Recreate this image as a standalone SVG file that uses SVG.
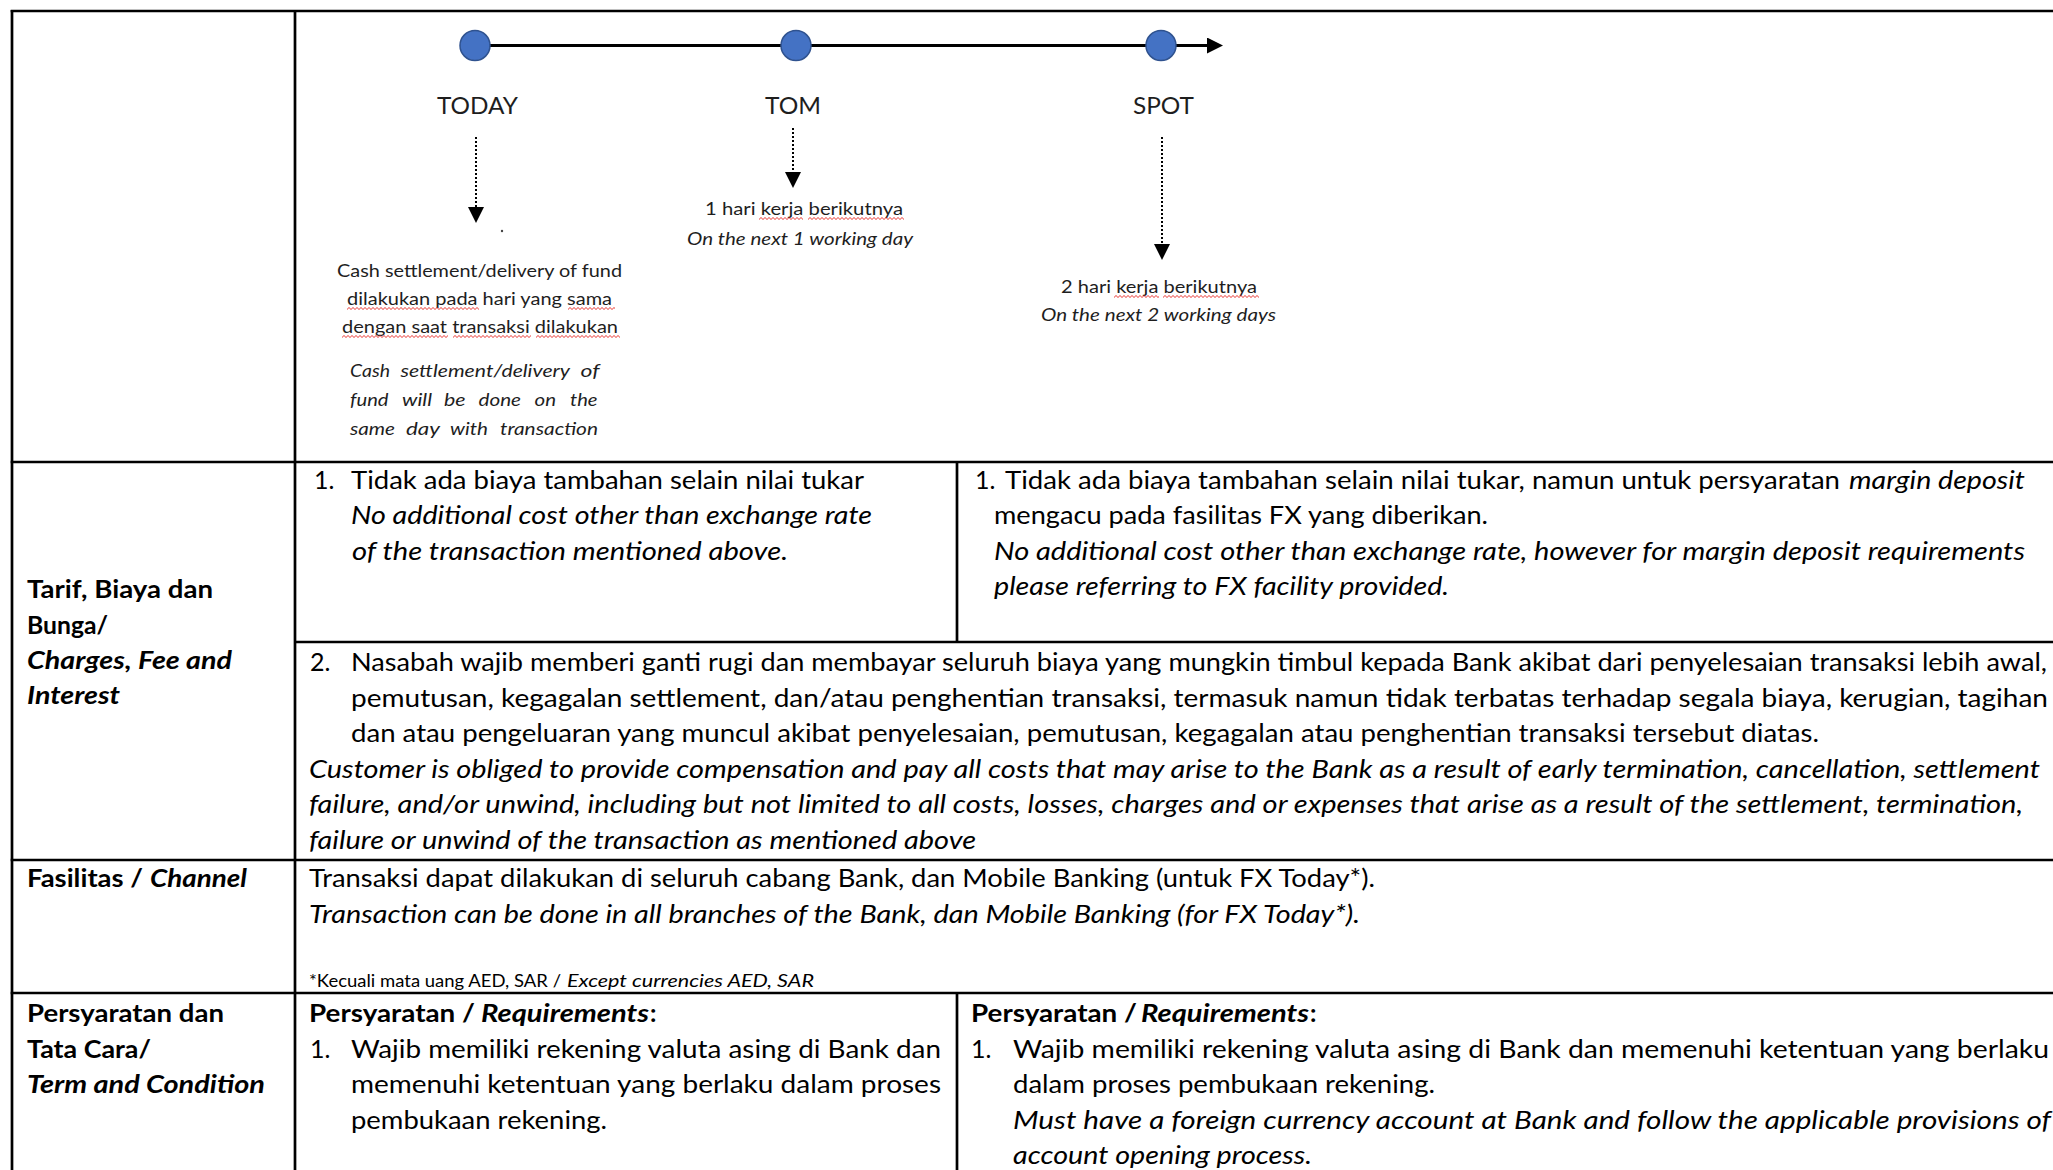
<svg xmlns="http://www.w3.org/2000/svg" width="2053" height="1170" viewBox="0 0 2053 1170">
<defs>
<style>
text{font-family:Lato,'Liberation Sans',sans-serif;fill:#000}
.body{font-size:25px}
.lab{font-size:25px;font-weight:700}
.i{font-style:italic}
.bi{font-weight:700;font-style:italic}
.tl{font-size:24px;fill:#1e1e1e}
.sm{font-size:18px;fill:#1e1e1e}
.fn{font-size:17px}
.grid line{stroke:#000;stroke-width:2.7}
.sq{fill:url(#squig)}
.dot{stroke:#000;stroke-width:2;stroke-dasharray:2 2;fill:none}
.main{stroke:#000;stroke-width:3.2;fill:none}
.node circle{fill:#4472C4;stroke:#2F528F;stroke-width:1.5}
</style>
<marker id="ah" viewBox="0 0 16 16" refX="0" refY="8" markerWidth="16" markerHeight="16" markerUnits="userSpaceOnUse" orient="auto"><path d="M0,0 L16,8 L0,16 z" fill="#000"/></marker>
<pattern id="squig" width="4" height="4" patternUnits="userSpaceOnUse"><path d="M0,3 L2,1 L4,3" fill="none" stroke="#e8241e" stroke-width="0.9"/></pattern>
</defs>
<rect width="2053" height="1170" fill="#fff"/>

<g id="grid" class="grid">
<line x1="10.7" y1="11" x2="2053" y2="11"/>
<line x1="12" y1="10" x2="12" y2="1170"/>
<line x1="295" y1="10" x2="295" y2="1170"/>
<line x1="10.7" y1="462" x2="2053" y2="462"/>
<line x1="957" y1="462" x2="957" y2="642"/>
<line x1="295" y1="642" x2="2053" y2="642"/>
<line x1="10.7" y1="860" x2="2053" y2="860"/>
<line x1="10.7" y1="993" x2="2053" y2="993"/>
<line x1="957" y1="993" x2="957" y2="1170"/>
</g>

<g id="connectors">
<line class="main" x1="475" y1="45.5" x2="1207" y2="45.5" marker-end="url(#ah)"/>
<line class="dot" x1="476" y1="137" x2="476" y2="207" marker-end="url(#ah)"/>
<line class="dot" x1="793" y1="128" x2="793" y2="172" marker-end="url(#ah)"/>
<line class="dot" x1="1162" y1="137" x2="1162" y2="244" marker-end="url(#ah)"/>
</g>

<g id="node-today" class="node">
<circle cx="475" cy="45.5" r="15"/>
<text class="tl" x="437" y="114" textLength="81" lengthAdjust="spacingAndGlyphs">TODAY</text>
<circle cx="502" cy="231" r="1.2" style="fill:#444;stroke:none"/>
<text class="sm" x="337" y="277" textLength="285" lengthAdjust="spacingAndGlyphs">Cash settlement/delivery of fund</text>
<text class="sm" x="347" y="305" textLength="265" lengthAdjust="spacingAndGlyphs">dilakukan pada hari yang sama</text>
<text class="sm" x="342" y="333" textLength="276" lengthAdjust="spacingAndGlyphs">dengan saat transaksi dilakukan</text>
<rect class="sq" transform="translate(347,306.5)" width="132" height="4"/>
<rect class="sq" transform="translate(568,306.5)" width="47" height="4"/>
<rect class="sq" transform="translate(342,334.5)" width="106" height="4"/>
<rect class="sq" transform="translate(453,334.5)" width="78" height="4"/>
<rect class="sq" transform="translate(536,334.5)" width="84" height="4"/>
<g class="sm i">
<text class="sm i" x="350" y="377" textLength="40" lengthAdjust="spacingAndGlyphs">Cash</text>
<text class="sm i" x="400.5" y="377" textLength="169.5" lengthAdjust="spacingAndGlyphs">settlement/delivery</text>
<text class="sm i" x="580.5" y="377" textLength="19" lengthAdjust="spacingAndGlyphs">of</text>
<text class="sm i" x="350" y="406" textLength="38.5" lengthAdjust="spacingAndGlyphs">fund</text>
<text class="sm i" x="402" y="406" textLength="30" lengthAdjust="spacingAndGlyphs">will</text>
<text class="sm i" x="444" y="406" textLength="21.5" lengthAdjust="spacingAndGlyphs">be</text>
<text class="sm i" x="478.5" y="406" textLength="42.5" lengthAdjust="spacingAndGlyphs">done</text>
<text class="sm i" x="534.5" y="406" textLength="21.5" lengthAdjust="spacingAndGlyphs">on</text>
<text class="sm i" x="570" y="406" textLength="27.5" lengthAdjust="spacingAndGlyphs">the</text>
<text class="sm i" x="350" y="435" textLength="45" lengthAdjust="spacingAndGlyphs">same</text>
<text class="sm i" x="406" y="435" textLength="34" lengthAdjust="spacingAndGlyphs">day</text>
<text class="sm i" x="450" y="435" textLength="38" lengthAdjust="spacingAndGlyphs">with</text>
<text class="sm i" x="500" y="435" textLength="98" lengthAdjust="spacingAndGlyphs">transaction</text>
</g>
</g>

<g id="node-tom" class="node">
<circle cx="796" cy="45.5" r="15"/>
<text class="tl" x="765" y="114" textLength="56" lengthAdjust="spacingAndGlyphs">TOM</text>
<text class="sm" x="705" y="215" textLength="198" lengthAdjust="spacingAndGlyphs">1 hari kerja berikutnya</text>
<rect class="sq" transform="translate(759,216.5)" width="44" height="4"/>
<rect class="sq" transform="translate(808,216.5)" width="96" height="4"/>
<text class="sm i" x="687" y="245" textLength="226" lengthAdjust="spacingAndGlyphs">On the next 1 working day</text>
</g>

<g id="node-spot" class="node">
<circle cx="1161" cy="45.5" r="15"/>
<text class="tl" x="1133" y="114" textLength="61" lengthAdjust="spacingAndGlyphs">SPOT</text>
<text class="sm" x="1061" y="293" textLength="196" lengthAdjust="spacingAndGlyphs">2 hari kerja berikutnya</text>
<rect class="sq" transform="translate(1114,294.5)" width="45" height="4"/>
<rect class="sq" transform="translate(1163,294.5)" width="96" height="4"/>
<text class="sm i" x="1041" y="321" textLength="235" lengthAdjust="spacingAndGlyphs">On the next 2 working days</text>
</g>

<g id="row-tarif">
<text class="lab" x="27" y="598" textLength="186" lengthAdjust="spacingAndGlyphs">Tarif, Biaya dan</text>
<text class="lab" x="27" y="633.5" textLength="81" lengthAdjust="spacingAndGlyphs">Bunga/</text>
<text class="lab bi" x="27" y="669" textLength="205" lengthAdjust="spacingAndGlyphs">Charges, Fee and</text>
<text class="lab bi" x="27" y="704" textLength="93" lengthAdjust="spacingAndGlyphs">Interest</text>

<text class="body" x="314" y="488.5">1.</text>
<text class="body" x="351" y="488.5" textLength="513" lengthAdjust="spacingAndGlyphs">Tidak ada biaya tambahan selain nilai tukar</text>
<text class="body i" x="351" y="524" textLength="521" lengthAdjust="spacingAndGlyphs">No additional cost other than exchange rate</text>
<text class="body i" x="352" y="559.5" textLength="436" lengthAdjust="spacingAndGlyphs">of the transaction mentioned above.</text>

<text class="body" x="975" y="488.5">1.</text>
<text class="body" x="1005" y="488.5" textLength="835" lengthAdjust="spacingAndGlyphs">Tidak ada biaya tambahan selain nilai tukar, namun untuk persyaratan</text>
<text class="body i" x="1849" y="488.5" textLength="176" lengthAdjust="spacingAndGlyphs">margin deposit</text>
<text class="body" x="994" y="524" textLength="494" lengthAdjust="spacingAndGlyphs">mengacu pada fasilitas FX yang diberikan.</text>
<text class="body i" x="994" y="559.5" textLength="1031" lengthAdjust="spacingAndGlyphs">No additional cost other than exchange rate, however for margin deposit requirements</text>
<text class="body i" x="994" y="595" textLength="455" lengthAdjust="spacingAndGlyphs">please referring to FX facility provided.</text>

<text class="body" x="310" y="671">2.</text>
<text class="body" x="351" y="671" textLength="1696" lengthAdjust="spacingAndGlyphs">Nasabah wajib memberi ganti rugi dan membayar seluruh biaya yang mungkin timbul kepada Bank akibat dari penyelesaian transaksi lebih awal,</text>
<text class="body" x="351" y="706.5" textLength="1697" lengthAdjust="spacingAndGlyphs">pemutusan, kegagalan settlement, dan/atau penghentian transaksi, termasuk namun tidak terbatas terhadap segala biaya, kerugian, tagihan</text>
<text class="body" x="351" y="742" textLength="1468" lengthAdjust="spacingAndGlyphs">dan atau pengeluaran yang muncul akibat penyelesaian, pemutusan, kegagalan atau penghentian transaksi tersebut diatas.</text>
<text class="body i" x="309" y="777.5" textLength="1731" lengthAdjust="spacingAndGlyphs">Customer is obliged to provide compensation and pay all costs that may arise to the Bank as a result of early termination, cancellation, settlement</text>
<text class="body i" x="309" y="813" textLength="1714" lengthAdjust="spacingAndGlyphs">failure, and/or unwind, including but not limited to all costs, losses, charges and or expenses that arise as a result of the settlement, termination,</text>
<text class="body i" x="309" y="848.5" textLength="667" lengthAdjust="spacingAndGlyphs">failure or unwind of the transaction as mentioned above</text>
</g>

<g id="row-fasilitas">
<text class="lab" x="27" y="886.5" textLength="116" lengthAdjust="spacingAndGlyphs">Fasilitas /</text>
<text class="lab bi" x="150" y="886.5" textLength="97" lengthAdjust="spacingAndGlyphs">Channel</text>
<text class="body" x="309" y="886.5" textLength="1066" lengthAdjust="spacingAndGlyphs">Transaksi dapat dilakukan di seluruh cabang Bank, dan Mobile Banking (untuk FX Today*).</text>
<text class="body i" x="309" y="922.5" textLength="1051" lengthAdjust="spacingAndGlyphs">Transaction can be done in all branches of the Bank, dan Mobile Banking (for FX Today*).</text>
<text class="fn" x="309" y="986.5" textLength="252" lengthAdjust="spacingAndGlyphs">*Kecuali mata uang AED, SAR /</text>
<text class="fn i" x="567" y="986.5" textLength="247" lengthAdjust="spacingAndGlyphs">Except currencies AED, SAR</text>
</g>

<g id="row-persyaratan">
<text class="lab" x="27" y="1022" textLength="197" lengthAdjust="spacingAndGlyphs">Persyaratan dan</text>
<text class="lab" x="27" y="1057.5" textLength="124" lengthAdjust="spacingAndGlyphs">Tata Cara/</text>
<text class="lab bi" x="27" y="1093" textLength="238" lengthAdjust="spacingAndGlyphs">Term and Condition</text>

<text class="lab" x="309" y="1022" textLength="166" lengthAdjust="spacingAndGlyphs">Persyaratan /</text>
<text class="lab bi" x="481" y="1022" textLength="168" lengthAdjust="spacingAndGlyphs">Requirements</text>
<text class="lab" x="650" y="1022">:</text>
<text class="body" x="310" y="1057.5">1.</text>
<text class="body" x="351" y="1057.5" textLength="590" lengthAdjust="spacingAndGlyphs">Wajib memiliki rekening valuta asing di Bank dan</text>
<text class="body" x="351" y="1093" textLength="590" lengthAdjust="spacingAndGlyphs">memenuhi ketentuan yang berlaku dalam proses</text>
<text class="body" x="351" y="1128.5" textLength="256" lengthAdjust="spacingAndGlyphs">pembukaan rekening.</text>

<text class="lab" x="971" y="1022" textLength="166" lengthAdjust="spacingAndGlyphs">Persyaratan /</text>
<text class="lab bi" x="1141" y="1022" textLength="168" lengthAdjust="spacingAndGlyphs">Requirements</text>
<text class="lab" x="1310" y="1022">:</text>
<text class="body" x="971" y="1057.5">1.</text>
<text class="body" x="1013" y="1057.5" textLength="1036" lengthAdjust="spacingAndGlyphs">Wajib memiliki rekening valuta asing di Bank dan memenuhi ketentuan yang berlaku</text>
<text class="body" x="1013" y="1093" textLength="422" lengthAdjust="spacingAndGlyphs">dalam proses pembukaan rekening.</text>
<text class="body i" x="1013" y="1128.5" textLength="1038" lengthAdjust="spacingAndGlyphs">Must have a foreign currency account at Bank and follow the applicable provisions of</text>
<text class="body i" x="1013" y="1164" textLength="299" lengthAdjust="spacingAndGlyphs">account opening process.</text>
</g>
</svg>
